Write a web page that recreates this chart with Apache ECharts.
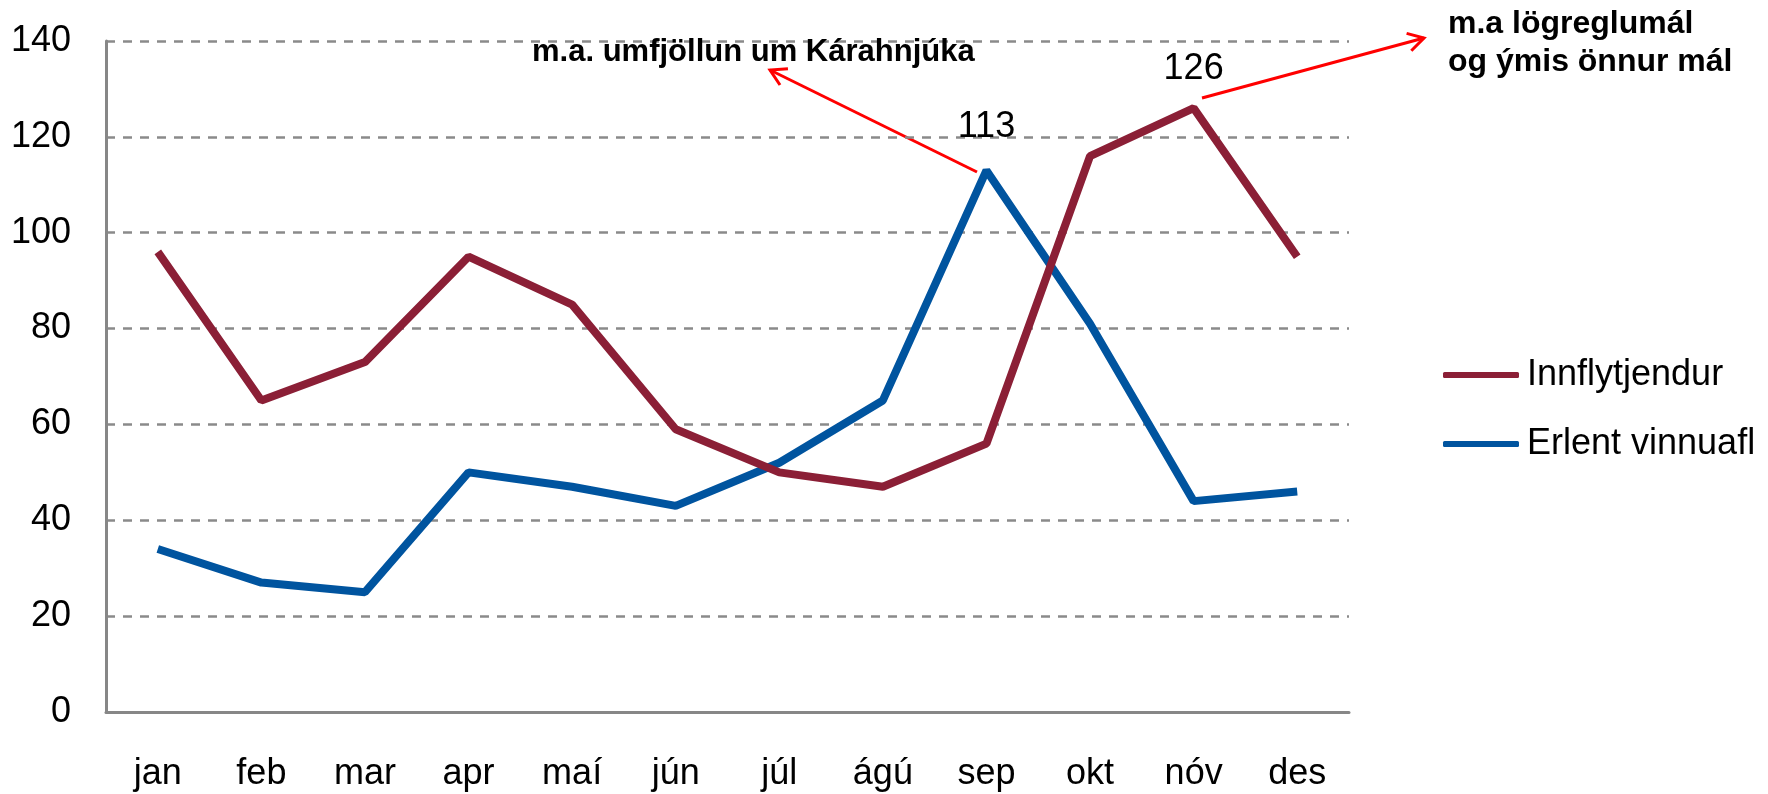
<!DOCTYPE html>
<html>
<head>
<meta charset="utf-8">
<title>Innflytjendur / Erlent vinnuafl</title>
<script src="https://cdn.jsdelivr.net/npm/echarts@6/dist/echarts.min.js"></script>
<style>
  html, body { margin: 0; padding: 0; background: #fff; }
  #chart { width: 1768px; height: 794px; }
</style>
</head>
<body>
<div id="chart"></div>
<script>
  // mánuðir
  const months = ['jan', 'feb', 'mar', 'apr', 'maí', 'jún', 'júl', 'ágú', 'sep', 'okt', 'nóv', 'des'];
  const innflytjendur = [96, 65, 73, 95, 85, 59, 50, 47, 56, 116, 126, 95];
  const erlentVinnuafl = [34, 27, 25, 50, 47, 43, 52, 65, 113, 81, 44, 46];
  const yTicks = [0, 20, 40, 60, 80, 100, 120, 140];

  const font = '"Liberation Sans", Arial, sans-serif';
  const red = '#ff0000';

  // gildi með merkimiða (hæsti punktur)
  function withPeakLabel(values, dist) {
    const peak = values.indexOf(Math.max(...values));
    return values.map((v, i) => i === peak
      ? { value: v, label: { show: true, position: 'top', distance: dist } }
      : v);
  }

  // ör: lína + opinn oddur
  function arrow(x1, y1, x2, y2) {
    const a = Math.atan2(y2 - y1, x2 - x1);
    const len = 18, w = Math.PI / 6;
    return [
      { type: 'line', shape: { x1, y1, x2, y2 }, style: { stroke: red, lineWidth: 3 } },
      {
        type: 'polyline',
        shape: {
          points: [
            [x2 - len * Math.cos(a - w), y2 - len * Math.sin(a - w)],
            [x2, y2],
            [x2 - len * Math.cos(a + w), y2 - len * Math.sin(a + w)]
          ]
        },
        style: { stroke: red, lineWidth: 3, fill: null }
      }
    ];
  }

  const chart = echarts.init(document.getElementById('chart'));
  chart.setOption({
    animation: false,
    textStyle: { fontFamily: font, color: '#000' },
    grid: { left: 106, right: 419, top: 41, bottom: 82 },
    legend: {
      orient: 'vertical',
      left: 1438,
      top: 350,
      itemWidth: 76,
      itemHeight: 6,
      itemGap: 29,
      icon: 'roundRect',
      textStyle: { fontFamily: font, fontSize: 36, color: '#000', lineHeight: 40, padding: [0, 0, 0, 3] },
      data: ['Innflytjendur', 'Erlent vinnuafl']
    },
    xAxis: {
      type: 'category',
      data: months,
      boundaryGap: true,
      axisLine: { lineStyle: { color: '#878787', width: 3 } },
      axisTick: { show: false },
      axisLabel: { fontSize: 36, color: '#000', margin: 44, fontFamily: font }
    },
    yAxis: {
      type: 'value',
      min: yTicks[0],
      max: yTicks[yTicks.length - 1],
      interval: 20,
      axisLine: { show: true, lineStyle: { color: '#878787', width: 3 } },
      axisTick: { show: false },
      axisLabel: { fontSize: 36, color: '#000', margin: 35, fontFamily: font },
      splitLine: { lineStyle: { color: '#8a8a8a', width: 2.5, type: [9, 8] } }
    },
    series: [
      {
        name: 'Innflytjendur',
        type: 'line',
        data: withPeakLabel(innflytjendur, 21),
        symbol: 'circle',
        symbolSize: 0,
        color: '#8b1f36',
        lineStyle: { width: 8 },
        label: { fontSize: 36, color: '#000', fontFamily: font },
        z: 3
      },
      {
        name: 'Erlent vinnuafl',
        type: 'line',
        data: withPeakLabel(erlentVinnuafl, 25),
        symbol: 'circle',
        symbolSize: 0,
        color: '#00549f',
        lineStyle: { width: 8 },
        label: { fontSize: 36, color: '#000', fontFamily: font },
        z: 2
      }
    ],
    graphic: [
      {
        type: 'text', left: 532, top: 37, z: 10,
        style: { text: 'm.a. umfjöllun um Kárahnjúka', font: 'bold 31px ' + font, fill: '#000' }
      },
      {
        type: 'text', left: 1448, top: 5, z: 10,
        style: { text: 'm.a lögreglumál\nog ýmis önnur mál', font: 'bold 32px ' + font, fill: '#000', lineHeight: 38 }
      },
      ...arrow(977, 172, 770, 70),
      ...arrow(1202, 98, 1424, 38)
    ]
  });
</script>
</body>
</html>
